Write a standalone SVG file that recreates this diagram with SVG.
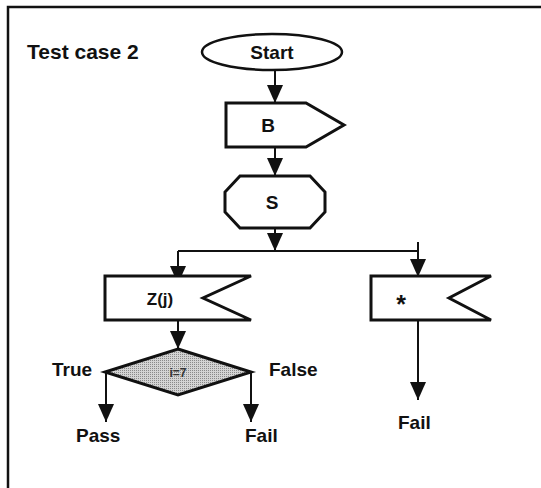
<svg xmlns="http://www.w3.org/2000/svg" width="541" height="488" viewBox="0 0 541 488">
  <style>
    text { font-family: "Liberation Sans", Arial, sans-serif; font-weight: bold; fill: #111; }
    .lbl { font-size: 19px; }
    .shape { fill: #fff; stroke: #111; stroke-width: 3; stroke-linejoin: miter; }
    .conn { fill: none; stroke: #111; stroke-width: 2; marker-end: url(#arrow); }
    .plain { fill: none; stroke: #111; stroke-width: 2; }
    .frame { fill: none; stroke: #111; stroke-width: 2.5; }
  </style>
  <defs>
    <marker id="arrow" viewBox="0 0 18 16" refX="18" refY="8" markerUnits="userSpaceOnUse" markerWidth="18" markerHeight="16" orient="auto">
      <path d="M0,0 L18,8 L0,16 Z" fill="#111"/>
    </marker>
    <!-- halftone grey used for the decision shape -->
    <pattern id="halftone" width="2" height="2" patternUnits="userSpaceOnUse">
      <rect width="2" height="2" fill="#d4d4d4"/>
      <rect width="1" height="1" fill="#8a8a8a"/>
    </pattern>
  </defs>

  <rect width="541" height="488" fill="#fff"/>

  <!-- outer frame (top and left edges) -->
  <path class="frame" d="M8,488 L8,7 L541,7"/>

  <text x="27" y="59" style="font-size:21px">Test case 2</text>

  <g id="connectors">
    <path class="conn" d="M275,70 L275,103"/>
    <path class="conn" d="M275,147 L275,176"/>
    <path class="conn" d="M275,228 L275,251"/>
    <path class="plain" d="M178,251 L418,251"/>
    <path class="conn" d="M178,251 L178,284"/>
    <path class="conn" d="M418,242 L418,277"/>
    <path class="conn" d="M178,320 L178,349"/>
    <path class="conn" d="M106,372 L106,422"/>
    <path class="conn" d="M251,372 L251,422"/>
    <path class="conn" d="M418,320 L418,400"/>
  </g>

  <g id="start">
    <ellipse class="shape" cx="272" cy="52" rx="70" ry="18" style="stroke-width:2.5"/>
    <text class="lbl" x="272" y="59" text-anchor="middle">Start</text>
  </g>

  <g id="b">
    <polygon class="shape" points="226,103 306,103 344,125 306,147 226,147"/>
    <text class="lbl" x="268" y="132" text-anchor="middle">B</text>
  </g>

  <g id="s">
    <polygon class="shape" points="240,176 310,176 325,192 325,212 310,228 240,228 225,212 225,192"/>
    <text class="lbl" x="272" y="209" text-anchor="middle">S</text>
  </g>

  <g id="zj">
    <polygon class="shape" points="105,276 251,276 203,298 251,320 105,320"/>
    <text x="160" y="305" text-anchor="middle" style="font-size:17px">Z(j)</text>
  </g>

  <g id="star">
    <polygon class="shape" points="371,276 491,276 449,298 491,320 371,320"/>
    <text x="401" y="313" text-anchor="middle" style="font-size:25px">*</text>
  </g>

  <g id="decision">
    <polygon points="178,349 251,372 178,395 105,372" fill="url(#halftone)" stroke="#111" stroke-width="3"/>
    <text x="178" y="377" text-anchor="middle" style="font-size:12px; fill:#333">i=7</text>
  </g>

  <g id="true-label"><text class="lbl" x="52" y="376">True</text></g>
  <g id="false-label"><text class="lbl" x="269" y="376">False</text></g>
  <g id="pass"><text class="lbl" x="76" y="442">Pass</text></g>
  <g id="fail-left"><text class="lbl" x="245" y="442">Fail</text></g>
  <g id="fail-right"><text class="lbl" x="398" y="429">Fail</text></g>
</svg>
